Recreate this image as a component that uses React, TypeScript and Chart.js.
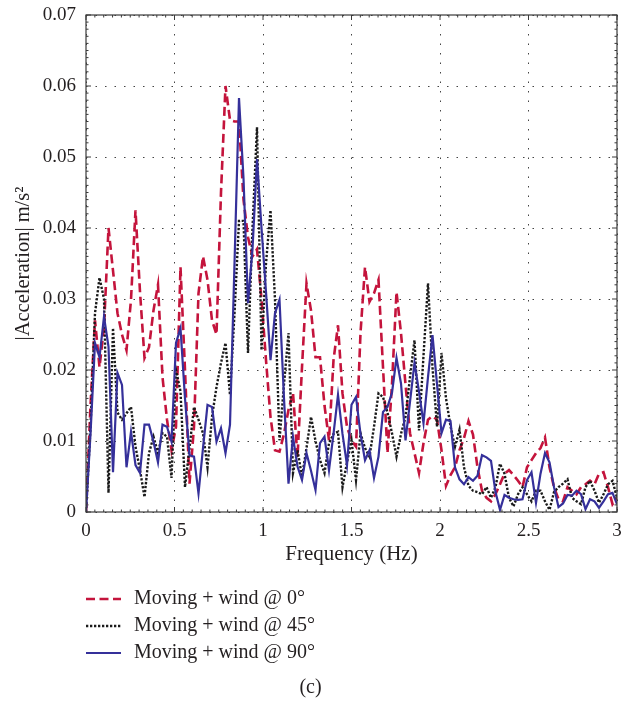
import React, { useEffect, useRef } from "react";
import { Chart, registerables } from "chart.js";

Chart.register(...registerables);

// Frequency bin spacing (Hz) and series
const FREQ_STEP = 3 / 118;
const X_TICKS = [0, 0.5, 1, 1.5, 2, 2.5, 3];
const Y_TICKS = [0, 0.01, 0.02, 0.03, 0.04, 0.05, 0.06, 0.07];
const SERIES_LABELS = ["Moving + wind @ 0°", "Moving + wind @ 45°", "Moving + wind @ 90°"];

const wind0 = [
  0, 0.015, 0.027, 0.0204, 0.026, 0.04, 0.034, 0.028, 0.025, 0.0228,
  0.0299, 0.0425, 0.031, 0.0217, 0.0232, 0.0284, 0.032, 0.019, 0.013, 0.0087,
  0.012, 0.0345, 0.02, 0.004, 0.012, 0.0308, 0.036, 0.0327, 0.027, 0.025,
  0.045, 0.06, 0.0552, 0.055, 0.055, 0.044, 0.0387, 0.036, 0.037, 0.03,
  0.0214, 0.0134, 0.0087, 0.0085, 0.011, 0.0144, 0.0168, 0.0077, 0.0204, 0.0322,
  0.0284, 0.0218, 0.0218, 0.015, 0.0101, 0.0214, 0.0263, 0.0167, 0.012, 0.0101,
  0.0092, 0.0252, 0.0345, 0.0296, 0.0308, 0.0327, 0.0204, 0.0083, 0.018, 0.031,
  0.0252, 0.018, 0.0111, 0.0083, 0.0055, 0.0097, 0.013, 0.0135, 0.013, 0.0087,
  0.0037, 0.0052, 0.0063, 0.0087, 0.0104, 0.0128, 0.0109, 0.0063, 0.003, 0.002,
  0.0015, 0.0025, 0.0039, 0.0054, 0.0059, 0.0052, 0.0044, 0.0035, 0.0063, 0.0073,
  0.0083, 0.009, 0.0105, 0.0063, 0.0035, 0.0018, 0.0015, 0.0035, 0.003, 0.0025,
  0.0035, 0.0039, 0.0044, 0.0039, 0.0054, 0.0056, 0.0035, 0.0011, 0.002,
];

const wind45 = [
  0, 0.012, 0.028, 0.033, 0.03, 0.0027, 0.0259, 0.014, 0.013, 0.0139,
  0.0148, 0.0092, 0.0059, 0.0021, 0.0083, 0.0106, 0.0083, 0.0111, 0.0106, 0.0048,
  0.02, 0.017, 0.0035, 0.009, 0.0148, 0.013, 0.0111, 0.0063, 0.0134, 0.0176,
  0.021, 0.0238, 0.0165, 0.028, 0.041, 0.041, 0.0224, 0.04, 0.0542, 0.0228,
  0.035, 0.0425, 0.0299, 0.0101, 0.018, 0.0252, 0.0055, 0.0087, 0.005, 0.009,
  0.0134, 0.01, 0.0073, 0.0055, 0.0097, 0.011, 0.0113, 0.0035, 0.007, 0.0101,
  0.0045, 0.0111, 0.009, 0.0078, 0.012, 0.0167, 0.0162, 0.014, 0.0111, 0.0078,
  0.011, 0.0134, 0.019, 0.0242, 0.0115, 0.022, 0.0322, 0.0204, 0.012, 0.0224,
  0.016, 0.0121, 0.0092, 0.0116, 0.0063, 0.0037, 0.003, 0.0028, 0.0025, 0.0035,
  0.002, 0.0035, 0.0068, 0.0054, 0.002, 0.0008, 0.0025, 0.0035, 0.0025, 0.0015,
  0.003, 0.003, 0.0015, 0.0003, 0.0028, 0.0035, 0.004, 0.0046, 0.002, 0.0015,
  0.0011, 0.0035, 0.0044, 0.003, 0.0013, 0.0025, 0.0039, 0.0044, 0.002,
];

const wind90 = [
  0, 0.011, 0.0238, 0.0218, 0.0275, 0.0233, 0.0056, 0.0196, 0.0179, 0.0063,
  0.0113, 0.0066, 0.0055, 0.0123, 0.0123, 0.0099, 0.007, 0.0123, 0.012, 0.0099,
  0.0238, 0.0259, 0.016, 0.008, 0.0078, 0.0026, 0.009, 0.0151, 0.0148, 0.0099,
  0.0118, 0.0083, 0.0123, 0.035, 0.0583, 0.047, 0.0294, 0.037, 0.0497, 0.04,
  0.031, 0.0214, 0.028, 0.0299, 0.016, 0.004, 0.0106, 0.0064, 0.0045, 0.0083,
  0.0058, 0.0031, 0.0097, 0.0106, 0.0059, 0.011, 0.0165, 0.011, 0.0066, 0.0151,
  0.0162, 0.011, 0.0073, 0.0087, 0.0048, 0.0078, 0.0141, 0.0148, 0.0168, 0.0217,
  0.0181, 0.0101, 0.0155, 0.021, 0.017, 0.0125, 0.019, 0.0249, 0.018, 0.0111,
  0.013, 0.0128, 0.0063, 0.0046, 0.0039, 0.0049, 0.0044, 0.0051, 0.008, 0.0077,
  0.0072, 0.0028, 0.0003, 0.0024, 0.002, 0.0018, 0.0017, 0.0018, 0.0045, 0.0056,
  0.0013, 0.0054, 0.0083, 0.007, 0.0035, 0.0007, 0.0012, 0.0024, 0.0023, 0.003,
  0.0025, 0.0004, 0.0018, 0.0015, 0.0006, 0.0015, 0.0025, 0.0027, 0.0011,
];

const FONT = "'Liberation Serif', 'DejaVu Serif', serif";
const TEXT = "#231f20";

const toPoints = (vals: number[]) => vals.map((y, i) => ({ x: i * FREQ_STEP, y }));

const framePlugin = {
  id: "frameTicks",
  afterDatasetsDraw(chart: any) {
    const { ctx, chartArea } = chart;
    const { left, right, top, bottom } = chartArea;
    const xs = chart.scales.x;
    const ys = chart.scales.y;
    ctx.save();
    ctx.strokeStyle = "#3a3a3a";
    ctx.lineWidth = 1.2;
    ctx.strokeRect(left, top, right - left, bottom - top);
    ctx.lineWidth = 1;
    ctx.beginPath();
    for (let k = 0; k <= 60; k++) {
      const px = xs.getPixelForValue(k * 0.05);
      const len = k % 10 === 0 ? 5 : 2.5;
      ctx.moveTo(px, bottom);
      ctx.lineTo(px, bottom - len);
      ctx.moveTo(px, top);
      ctx.lineTo(px, top + len);
    }
    for (let k = 0; k <= 70; k++) {
      const py = ys.getPixelForValue(k * 0.001);
      const len = k % 10 === 0 ? 5 : 2.5;
      ctx.moveTo(left, py);
      ctx.lineTo(left + len, py);
      ctx.moveTo(right, py);
      ctx.lineTo(right - len, py);
    }
    ctx.stroke();
    ctx.restore();
  },
  afterDraw(chart: any) {
    const { ctx, chartArea, width } = chart;
    const { left, bottom } = chartArea;
    ctx.save();
    ctx.font = `20px ${FONT}`;
    ctx.textBaseline = "middle";
    chart.data.datasets.forEach((ds: any, i: number) => {
      const y = bottom + 87 + i * 27;
      ctx.save();
      ctx.strokeStyle = ds.borderColor;
      ctx.lineWidth = ds.borderWidth;
      ctx.setLineDash(ds.borderDash || []);
      ctx.lineCap = "butt";
      ctx.beginPath();
      ctx.moveTo(left, y);
      ctx.lineTo(left + 35, y);
      ctx.stroke();
      ctx.restore();
      ctx.fillStyle = TEXT;
      ctx.textAlign = "left";
      ctx.fillText(ds.label, left + 48, y);
    });
    ctx.textAlign = "center";
    ctx.fillText("(c)", width / 2, bottom + 176);
    ctx.restore();
  },
};

export default function App() {
  const canvasRef = useRef<HTMLCanvasElement | null>(null);

  useEffect(() => {
    if (!canvasRef.current) return;
    const gridDash = [1.5, 8];
    const chart = new Chart(canvasRef.current, {
      type: "line",
      data: {
        datasets: [
          {
            label: SERIES_LABELS[0],
            data: toPoints(wind0),
            borderColor: "#c4143c",
            borderWidth: 2.6,
            borderDash: [9, 4.5],
            pointRadius: 0,
            tension: 0,
            order: 3,
          },
          {
            label: SERIES_LABELS[1],
            data: toPoints(wind45),
            borderColor: "#1a1a1a",
            borderWidth: 2.4,
            borderDash: [2.3, 1.7],
            pointRadius: 0,
            tension: 0,
            order: 2,
          },
          {
            label: SERIES_LABELS[2],
            data: toPoints(wind90),
            borderColor: "#35309a",
            borderWidth: 2.2,
            pointRadius: 0,
            tension: 0,
            order: 1,
          },
        ],
      },
      options: {
        animation: false,
        responsive: true,
        maintainAspectRatio: false,
        layout: { padding: { top: 15, right: 4, bottom: 139, left: 0 } },
        plugins: {
          legend: { display: false },
          tooltip: { enabled: false },
        },
        scales: {
          x: {
            type: "linear",
            min: 0,
            max: 3,
            afterBuildTicks: (s: any) => {
              s.ticks = X_TICKS.map((v) => ({ value: v }));
            },
            afterFit: (s: any) => {
              s.height = 55;
              s.paddingLeft = 0;
              s.paddingRight = 0;
            },
            ticks: {
              padding: 8,
              color: TEXT,
              font: { family: FONT, size: 19 },
              callback: (v: any) => String(+Number(v).toFixed(2)),
            },
            grid: {
              color: "#444",
              lineWidth: 1,
              drawTicks: false,
            },
            border: { display: false, dash: gridDash },
            title: {
              display: true,
              text: "Frequency (Hz)",
              color: TEXT,
              font: { family: FONT, size: 21 },
              padding: { top: 0, bottom: 0 },
            },
          },
          y: {
            type: "linear",
            min: 0,
            max: 0.07,
            afterBuildTicks: (s: any) => {
              s.ticks = Y_TICKS.map((v) => ({ value: v }));
            },
            afterFit: (s: any) => {
              s.width = 86;
              s.paddingTop = 0;
              s.paddingBottom = 0;
            },
            ticks: {
              padding: 10,
              color: TEXT,
              font: { family: FONT, size: 19 },
              callback: (v: any) => String(+Number(v).toFixed(2)),
            },
            grid: {
              color: "#444",
              lineWidth: 1,
              drawTicks: false,
            },
            border: { display: false, dash: gridDash },
            title: {
              display: true,
              text: "|Acceleration| m/s²",
              color: TEXT,
              font: { family: FONT, size: 20.5 },
              padding: { top: 11, bottom: 0 },
            },
          },
        },
      },
      plugins: [framePlugin],
    });
    return () => chart.destroy();
  }, []);

  return (
    <div style={{ position: "fixed", left: 0, top: 0, width: 621, height: 706, background: "#fff" }}>
      <canvas ref={canvasRef} />
    </div>
  );
}
